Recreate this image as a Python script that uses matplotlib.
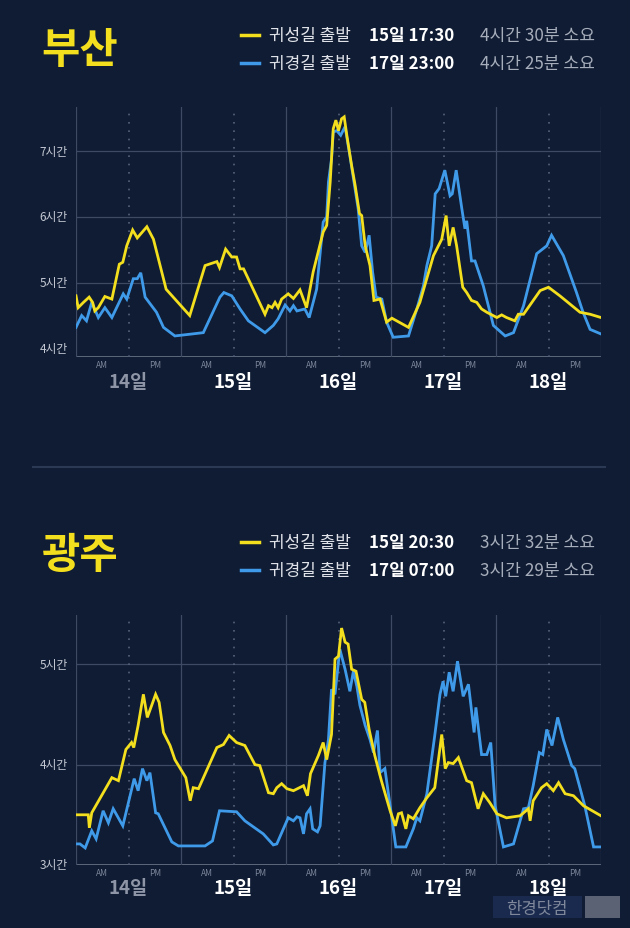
import numpy as np
import matplotlib.pyplot as plt
from matplotlib.lines import Line2D
from matplotlib.patches import Rectangle

plt.rcParams['font.family'] = ['Noto Sans CJK KR', 'DejaVu Sans']

# hours from 14일 00:00, travel time in hours
busan_out_h = [0, 0.5, 1.7, 3, 3.8, 4.3, 5.1, 6.6, 8.2, 9.9,
               10.7, 11.6, 12.95, 14, 16.2, 17.7, 20.6, 26, 29.5, 32.2,
               32.8, 34.2, 35.6, 36.7, 37.5, 38.3, 43.2, 44, 44.8, 45.5,
               46.2, 47, 48.5, 49.7, 51.2, 52.7, 54.2, 56.5, 57.3, 58.1,
               58.8, 59.4, 60, 60.7, 61.3, 61.9, 63, 63.8, 64.8, 65.3,
               66.1, 67.2, 68.1, 69.5, 71, 72.2, 76, 78.6, 81.7, 83.6,
               84.6, 85.3, 86.2, 87, 88.4, 89.3, 90.4, 91.6, 92.7, 93.9,
               96.2, 97.3, 98.4, 100.3, 101.1, 102.3, 106.1, 108, 110.6, 115.2,
               117.5, 120]
busan_out_v = [4.80, 4.62, 4.70, 4.78, 4.70, 4.57, 4.62, 4.79, 4.75, 5.28,
               5.31, 5.56, 5.80, 5.68, 5.85, 5.66, 4.90, 4.50, 5.26, 5.32,
               5.23, 5.51, 5.39, 5.39, 5.21, 5.21, 4.52, 4.65, 4.62, 4.70,
               4.62, 4.75, 4.83, 4.76, 4.89, 4.62, 5.16, 5.77, 5.87, 6.53,
               7.34, 7.47, 7.31, 7.49, 7.52, 7.24, 6.78, 6.48, 6.05, 6.02,
               5.56, 5.26, 4.73, 4.75, 4.40, 4.46, 4.32, 4.70, 5.41, 5.66,
               6.02, 5.56, 5.84, 5.56, 4.93, 4.85, 4.73, 4.70, 4.60, 4.55,
               4.47, 4.51, 4.47, 4.42, 4.52, 4.52, 4.88, 4.93, 4.80, 4.55,
               4.52, 4.47]

busan_ret_h = [0, 1.3, 2.4, 3.6, 5.1, 6.6, 8.2, 10.8, 11.6, 13.1,
               14, 14.8, 15.8, 18.4, 20, 22.6, 29.1, 32.9, 33.8, 35.6,
               37.5, 39.4, 43.2, 45.1, 46.2, 47.8, 48.9, 49.7, 50.5, 52.3,
               53.3, 55, 56.5, 57.3, 57.7, 58.4, 58.8, 59.6, 60.5, 61.5,
               62.6, 64.5, 65.3, 66.1, 67, 67.8, 68.6, 69.9, 71, 72.5,
               76, 77.9, 79.4, 80.2, 81.3, 82.1, 83, 84.3, 85.5, 86,
               86.9, 88.2, 88.9, 89.3, 90.4, 91.2, 93.1, 95.4, 98.1, 100,
               102.3, 105.3, 107.6, 108.7, 111.4, 114.4, 115.9, 117.5, 120]
busan_ret_v = [4.32, 4.50, 4.42, 4.70, 4.47, 4.62, 4.47, 4.83, 4.75, 5.06,
               5.06, 5.15, 4.78, 4.55, 4.32, 4.19, 4.24, 4.78, 4.85, 4.80,
               4.60, 4.42, 4.24, 4.35, 4.45, 4.66, 4.57, 4.65, 4.57, 4.60,
               4.47, 4.90, 5.92, 6.00, 6.53, 6.88, 7.29, 7.31, 7.24, 7.37,
               6.93, 6.12, 5.56, 5.46, 5.72, 5.16, 4.78, 4.75, 4.40, 4.17,
               4.19, 4.60, 4.95, 5.26, 5.56, 6.35, 6.43, 6.71, 6.32, 6.35,
               6.71, 6.12, 5.82, 5.94, 5.33, 5.33, 4.95, 4.35, 4.19, 4.24,
               4.65, 5.44, 5.56, 5.72, 5.41, 4.85, 4.55, 4.29, 4.22]

gwangju_out_h = [0, 2.8, 3.05, 3.6, 8.2, 9.7, 11.4, 12.7, 13.2, 14.2,
                 15.4, 16.3, 17.3, 18.2, 19, 20, 21.5, 22.6, 25.1, 26.1,
                 26.8, 28, 32.2, 33.7, 35, 36.7, 38.6, 40.9, 42, 44,
                 45.1, 45.9, 47, 48.2, 49.7, 52, 52.9, 53.6, 55.4, 56.5,
                 57.3, 58.4, 59.2, 60, 60.7, 61.5, 62.2, 63, 64, 65.3,
                 66, 67, 68.3, 69.8, 71.8, 73, 73.7, 74.4, 75.4, 76,
                 77.1, 78.6, 80.2, 82, 83.6, 84.4, 85.1, 86.2, 87.4, 89.3,
                 90.4, 91.9, 93.1, 94.6, 96.2, 98.4, 101.5, 103.4, 103.8, 104.5,
                 106.4, 107.6, 109.1, 110.3, 111.8, 113.7, 116, 120]
gwangju_out_v = [3.50, 3.50, 3.37, 3.52, 3.87, 3.84, 4.15, 4.22, 4.17, 4.39,
                 4.70, 4.47, 4.59, 4.70, 4.62, 4.32, 4.19, 4.05, 3.87, 3.64,
                 3.77, 3.76, 4.17, 4.20, 4.29, 4.22, 4.19, 4.00, 3.99, 3.72,
                 3.71, 3.77, 3.81, 3.76, 3.74, 3.79, 3.69, 3.91, 4.09, 4.22,
                 4.05, 4.30, 5.05, 5.08, 5.36, 5.22, 5.20, 4.95, 4.93, 4.65,
                 4.62, 4.35, 4.09, 3.84, 3.54, 3.39, 3.51, 3.52, 3.36, 3.49,
                 3.46, 3.57, 3.67, 3.77, 4.30, 3.96, 4.02, 4.01, 4.07, 3.84,
                 3.82, 3.56, 3.71, 3.62, 3.51, 3.47, 3.49, 3.56, 3.44, 3.64,
                 3.77, 3.81, 3.74, 3.82, 3.71, 3.69, 3.59, 3.49]

gwangju_ret_h = [0, 0.9, 2.1, 3.6, 4.6, 6.2, 7.4, 8.5, 10.7, 13.3,
                 14.2, 15.2, 16.2, 16.9, 18.2, 18.8, 21.9, 23.4, 29.5, 31.2,
                 32.8, 36.7, 38.6, 42.8, 45.1, 45.9, 48.5, 49.7, 50.5, 51.2,
                 52, 52.7, 53.5, 54.1, 55.2, 55.8, 56.9, 57.7, 58.4, 59.2,
                 60.3, 61.5, 62.6, 63.4, 64.2, 64.9, 66.1, 67.2, 68, 68.9,
                 69.5, 70.6, 71.8, 73.1, 75.4, 77.1, 77.9, 78.6, 80.2, 82,
                 83.2, 83.9, 84.5, 85.3, 86.2, 87.2, 88.5, 89.7, 91, 91.4,
                 92.7, 93.9, 94.8, 95.8, 97.7, 100, 102.3, 103.4, 104.5, 105.9,
                 106.7, 107.6, 108.8, 110.1, 111.4, 113.3, 114, 116.3, 118.3, 120]
gwangju_ret_v = [3.21, 3.21, 3.17, 3.34, 3.26, 3.54, 3.42, 3.56, 3.39, 3.86,
                 3.74, 3.96, 3.84, 3.92, 3.52, 3.51, 3.23, 3.19, 3.19, 3.24,
                 3.54, 3.53, 3.44, 3.31, 3.20, 3.21, 3.47, 3.44, 3.48, 3.47,
                 3.31, 3.51, 3.56, 3.36, 3.33, 3.39, 4.02, 4.25, 4.75, 4.70,
                 5.15, 4.95, 4.73, 4.93, 4.78, 4.59, 4.39, 4.25, 4.12, 4.34,
                 3.92, 3.96, 3.59, 3.18, 3.18, 3.36, 3.47, 3.44, 3.71, 4.29,
                 4.70, 4.83, 4.68, 4.92, 4.73, 5.03, 4.68, 4.80, 4.32, 4.57,
                 4.10, 4.10, 4.22, 3.59, 3.18, 3.21, 3.56, 3.57, 3.79, 4.12,
                 4.10, 4.35, 4.19, 4.47, 4.25, 3.99, 3.96, 3.59, 3.18, 3.18]

day_labels = ['14일', '15일', '16일', '17일', '18일']
busan_ticks = [5, 6, 7]
gwangju_ticks = [4, 5]

busan_legend = [('귀성길 출발', '15일 17:30', '4시간 30분 소요'),
                ('귀경길 출발', '17일 23:00', '4시간 25분 소요')]
gwangju_legend = [('귀성길 출발', '15일 20:30', '3시간 32분 소요'),
                  ('귀경길 출발', '17일 07:00', '3시간 29분 소요')]

BG = '#101c33'
YEL = '#f3df1d'
BLU = '#3f9bea'
GRID = '#3e4a63'

W, H = 630, 929
fig = plt.figure(figsize=(W / 100, H / 100), dpi=100, facecolor=BG)


def fx(px):
    return px / W


def fy(py):
    return 1 - py / H


def draw_panel(top_px, ylim, yticks, out_h, out_v, ret_h, ret_v, day_y):
    ax = fig.add_axes([fx(76), fy(top_px + 250), fx(525), 250 / H])
    ax.set_facecolor(BG)
    ax.set_xlim(0, 120)
    ax.set_ylim(*ylim)
    for s in ax.spines.values():
        s.set_visible(False)
    ax.axhline(ylim[0], color='#6b7488', lw=1.2, zorder=1)
    for y in yticks:
        ax.axhline(y, color=GRID, lw=0.9, zorder=1)
    for d in range(6):
        ax.axvline(d * 24, color=GRID, lw=0.9, zorder=1)
    for d in range(5):
        ax.axvline(d * 24 + 12, color='#56617a', lw=1.2,
                   linestyle=(0, (1, 4)), zorder=1)

    ax.plot(ret_h, ret_v, color=BLU, lw=2.0, zorder=3, solid_joinstyle='miter')
    ax.plot(out_h, out_v, color=YEL, lw=2.0, zorder=4, solid_joinstyle='miter')

    ax.set_xticks([])
    ax.set_yticks([])
    for y in range(int(np.ceil(ylim[0])), int(ylim[1]) + 1):
        ax.text(-1.9, y, f'{y}시간', ha='right', va='center', fontsize=8.5,
                color='#c3c8d3')
    tr = ax.get_xaxis_transform()
    for d in range(5):
        ax.text(d * 24 + 6, -0.032, 'AM', transform=tr, ha='center', va='center',
                fontsize=6, color='#7c869b')
        ax.text(d * 24 + 18, -0.032, 'PM', transform=tr, ha='center', va='center',
                fontsize=6, color='#7c869b')
        ax.text(d * 24 + 12, day_y, day_labels[d], transform=tr, ha='center',
                va='center', fontsize=13.5, fontweight='bold',
                color='#8d95a6' if d == 0 else 'white')
    return ax


def draw_header(title, rows, cy, ry):
    fig.text(fx(80), fy(cy), title, ha='center', va='center', fontsize=30,
             fontweight='bold', color=YEL)
    for (name, when, dur), y, c in zip(rows, ry, [YEL, BLU]):
        fig.add_artist(Line2D([fx(241), fx(259)], [fy(y), fy(y)], color=c, lw=2.5))
        fig.text(fx(269), fy(y), name, ha='left', va='center', fontsize=12.2,
                 fontweight='medium', color='#dfe2e9')
        fig.text(fx(369), fy(y), when, ha='left', va='center', fontsize=12.2,
                 fontweight='bold', color='white')
        fig.text(fx(480), fy(y), dur, ha='left', va='center', fontsize=12.3,
                 color='#a6adbb')


draw_header('부산', busan_legend, 51, [36, 64])
draw_panel(108, (3.87, 7.67), busan_ticks, busan_out_h, busan_out_v,
           busan_ret_h, busan_ret_v, -0.1)

fig.add_artist(Line2D([fx(33), fx(605)], [fy(468), fy(468)], color='#2c3954', lw=1.5))

draw_header('광주', gwangju_legend, 556, [543, 571])
draw_panel(616, (3.0, 5.49), gwangju_ticks, gwangju_out_h, gwangju_out_v,
           gwangju_ret_h, gwangju_ret_v, -0.09)

# watermark
fig.add_artist(Rectangle((fx(493), fy(919)), fx(89), 22 / H, color='#1a2a4f', lw=0))
fig.add_artist(Rectangle((fx(585), fy(919)), fx(35), 22 / H, color='#5a6274', lw=0))
fig.text(fx(537), fy(909), '한경닷컴', ha='center', va='center', fontsize=12,
         color='#7f889b')

fig.savefig('out.png', dpi=100, facecolor=BG)
